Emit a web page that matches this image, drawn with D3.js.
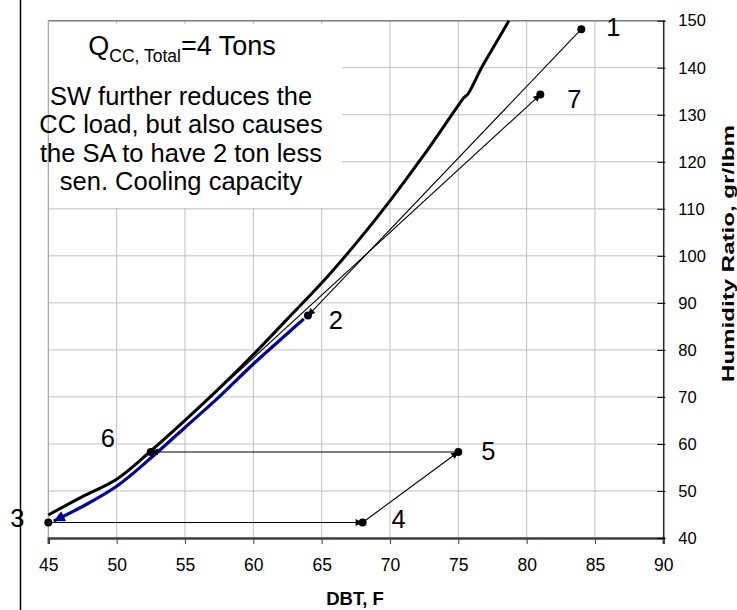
<!DOCTYPE html>
<html>
<head>
<meta charset="utf-8">
<script src="https://cdn.jsdelivr.net/npm/d3@7"></script>
<style>
  body { margin: 0; background: #fff; }
  svg { display: block; font-family: "Liberation Sans", Arial, sans-serif; }
</style>
</head>
<body>
<div id="showBox"></div>
<script>
// saturation curve (thick black)
const satDbt = [45, 47.5, 50, 52.5, 55, 57.5, 60, 62.5, 65, 67.5, 70, 72.5, 75, 75.4, 75.7, 76.7, 77.7, 78.7];
const satW = [44.9, 48.8, 52.5, 58.5, 65, 71.8, 79, 86.6, 94.2, 102.6, 111.7, 121.5, 132, 133.6, 134.4, 140, 145, 150];

// cooling coil process 2 -> 3 (blue)
const coilDbt = [63.7, 62.5, 60, 57.5, 55, 52.5, 50, 47.5, 45.4];
const coilW = [86.6, 83.5, 77, 70, 63.5, 57, 51, 46.7, 43.6];

// state points
const pointNames = ["1", "2", "3", "4", "5", "6", "7"];
const pointDbt = [84, 64, 45, 68, 75, 52.5, 81];
const pointW = [148.2, 87.3, 43.3, 43.3, 58.3, 58.3, 134.3];

// straight process lines (from, to) by point name
const segments = [["1", "2"], ["3", "4"], ["4", "5"], ["5", "6"], ["6", "7"]];

const xTicks = [45, 50, 55, 60, 65, 70, 75, 80, 85, 90];
const yTicks = [40, 50, 60, 70, 80, 90, 100, 110, 120, 130, 140, 150];

const noteTitle = ["Q", "CC, Total", "=4 Tons"];
const noteLines = ["SW further reduces the", "CC load, but also causes", "the SA to have 2 ton less", "sen. Cooling capacity"];

const width = 737, height = 610;
const x = d3.scaleLinear().domain([45, 90]).range([48.3, 663.3]);
const y = d3.scaleLinear().domain([40, 150]).range([538, 20.7]);

const svg = d3.select("#showBox").append("svg")
    .attr("width", width).attr("height", height);

const defs = svg.append("defs");
function arrow(id, color, w, h) {
    defs.append("marker")
        .attr("id", id)
        .attr("markerUnits", "userSpaceOnUse")
        .attr("viewBox", "0 0 10 10")
        .attr("refX", 10).attr("refY", 5)
        .attr("markerWidth", w).attr("markerHeight", h)
        .attr("orient", "auto")
        .append("path")
        .attr("d", "M0,0L10,5L0,10Z")
        .attr("fill", color);
}
arrow("arrBlack", "#000", 10, 7);
arrow("arrBlue", "#0000a0", 15, 11);

// frame line on the left
svg.append("line")
    .attr("x1", 20.5).attr("x2", 20.5).attr("y1", 0).attr("y2", height)
    .attr("stroke", "#000").attr("stroke-width", 1.5);

// grid
svg.append("g")
    .selectAll("line")
    .data(xTicks)
    .join("line")
    .attr("x1", d => x(d)).attr("x2", d => x(d))
    .attr("y1", y(40)).attr("y2", y(150))
    .attr("stroke", "#c0c0c0").attr("stroke-width", 1);

svg.append("g")
    .selectAll("line")
    .data(yTicks)
    .join("line")
    .attr("x1", x(45)).attr("x2", x(90))
    .attr("y1", d => y(d)).attr("y2", d => y(d))
    .attr("stroke", "#c0c0c0").attr("stroke-width", 1);

svg.append("line")
    .attr("x1", x(45)).attr("x2", x(90)).attr("y1", y(150)).attr("y2", y(150))
    .attr("stroke", "#808080").attr("stroke-width", 1.5);
svg.append("line")
    .attr("x1", x(45)).attr("x2", x(45)).attr("y1", y(150)).attr("y2", y(40))
    .attr("stroke", "#a0a0a0").attr("stroke-width", 1);

// note box
svg.append("rect")
    .attr("x", 49).attr("y", 24).attr("width", 293).attr("height", 184)
    .attr("fill", "#fff");

const title = svg.append("text")
    .attr("x", 182).attr("y", 55)
    .attr("text-anchor", "middle")
    .attr("font-size", 27);
title.append("tspan").text(noteTitle[0]);
title.append("tspan").attr("font-size", 17.5).attr("dy", 7).text(noteTitle[1]);
title.append("tspan").attr("dy", -7).text(noteTitle[2]);

svg.append("g")
    .attr("font-size", 25.5)
    .attr("text-anchor", "middle")
    .selectAll("text")
    .data(noteLines)
    .join("text")
    .attr("x", 181)
    .attr("y", (d, i) => 105 + i * 28.4)
    .text(d => d);

// axes
const xAxis = svg.append("g")
    .attr("transform", `translate(0,${y(40)})`)
    .call(d3.axisBottom(x).tickValues(xTicks).tickSize(6).tickPadding(15));
xAxis.select(".domain").attr("stroke", "#404040").attr("stroke-width", 2.5);
xAxis.selectAll(".tick line").attr("stroke", "#404040");
xAxis.selectAll("text").attr("font-size", 17.5).attr("fill", "#000")
    .attr("font-family", "Liberation Sans, Arial, sans-serif");

const yAxis = svg.append("g")
    .attr("transform", `translate(${x(90)},0)`)
    .call(d3.axisRight(y).tickValues(yTicks).tickSize(2).tickPadding(13));
yAxis.select(".domain").attr("stroke", "#000").attr("stroke-width", 1.2);
yAxis.selectAll(".tick line").attr("x1", -6).attr("x2", 2).attr("stroke", "#000");
yAxis.selectAll("text").attr("font-size", 16.5).attr("fill", "#000")
    .attr("font-family", "Liberation Sans, Arial, sans-serif");

svg.append("text")
    .attr("x", 355).attr("y", 605)
    .attr("text-anchor", "middle")
    .attr("font-size", 18.5).attr("font-weight", "bold")
    .text("DBT, F");

svg.append("text")
    .attr("transform", `translate(734,${(125 + 382) / 2}) rotate(-90)`)
    .attr("text-anchor", "middle")
    .attr("font-size", 17).attr("font-weight", "bold")
    .attr("textLength", 257).attr("lengthAdjust", "spacingAndGlyphs")
    .text("Humidity Ratio, gr/lbm");

// curves
const plot = svg.append("g");
const satPts = satDbt.map((d, i) => [d, satW[i]]);
plot.append("path")
    .attr("d", d3.line().x(d => x(d[0])).y(d => y(d[1])).curve(d3.curveCatmullRom)(satPts))
    .attr("fill", "none").attr("stroke", "#000").attr("stroke-width", 3)
    .attr("stroke-linejoin", "round");

const coilPts = coilDbt.map((d, i) => [d, coilW[i]]);
plot.append("path")
    .attr("d", d3.line().x(d => x(d[0])).y(d => y(d[1])).curve(d3.curveCatmullRom)(coilPts))
    .attr("fill", "none").attr("stroke", "#0000a0").attr("stroke-width", 3.2)
    .attr("marker-end", "url(#arrBlue)");

const pt = name => {
    const i = pointNames.indexOf(name);
    return [x(pointDbt[i]), y(pointW[i])];
};

plot.append("g")
    .selectAll("line")
    .data(segments)
    .join("line")
    .attr("x1", d => pt(d[0])[0]).attr("y1", d => pt(d[0])[1])
    .attr("x2", d => pt(d[1])[0]).attr("y2", d => pt(d[1])[1])
    .attr("stroke", "#000").attr("stroke-width", 1.1)
    .attr("marker-end", "url(#arrBlack)");

plot.append("g")
    .selectAll("circle")
    .data(pointNames)
    .join("circle")
    .attr("cx", d => pt(d)[0])
    .attr("cy", d => pt(d)[1])
    .attr("r", 4)
    .attr("fill", "#000");

// point labels, offset from their markers
const labelOffset = {"1": [32, -2], "2": [28, 4.5], "3": [-31, -4], "4": [36, -3.5], "5": [30, -1], "6": [-43, -14], "7": [34, 4.5]};
plot.append("g")
    .attr("font-size", 25.5)
    .attr("text-anchor", "middle")
    .selectAll("text")
    .data(pointNames)
    .join("text")
    .attr("x", d => pt(d)[0] + labelOffset[d][0])
    .attr("y", d => pt(d)[1] + labelOffset[d][1])
    .attr("dy", "0.35em")
    .text(d => d);
</script>
</body>
</html>
